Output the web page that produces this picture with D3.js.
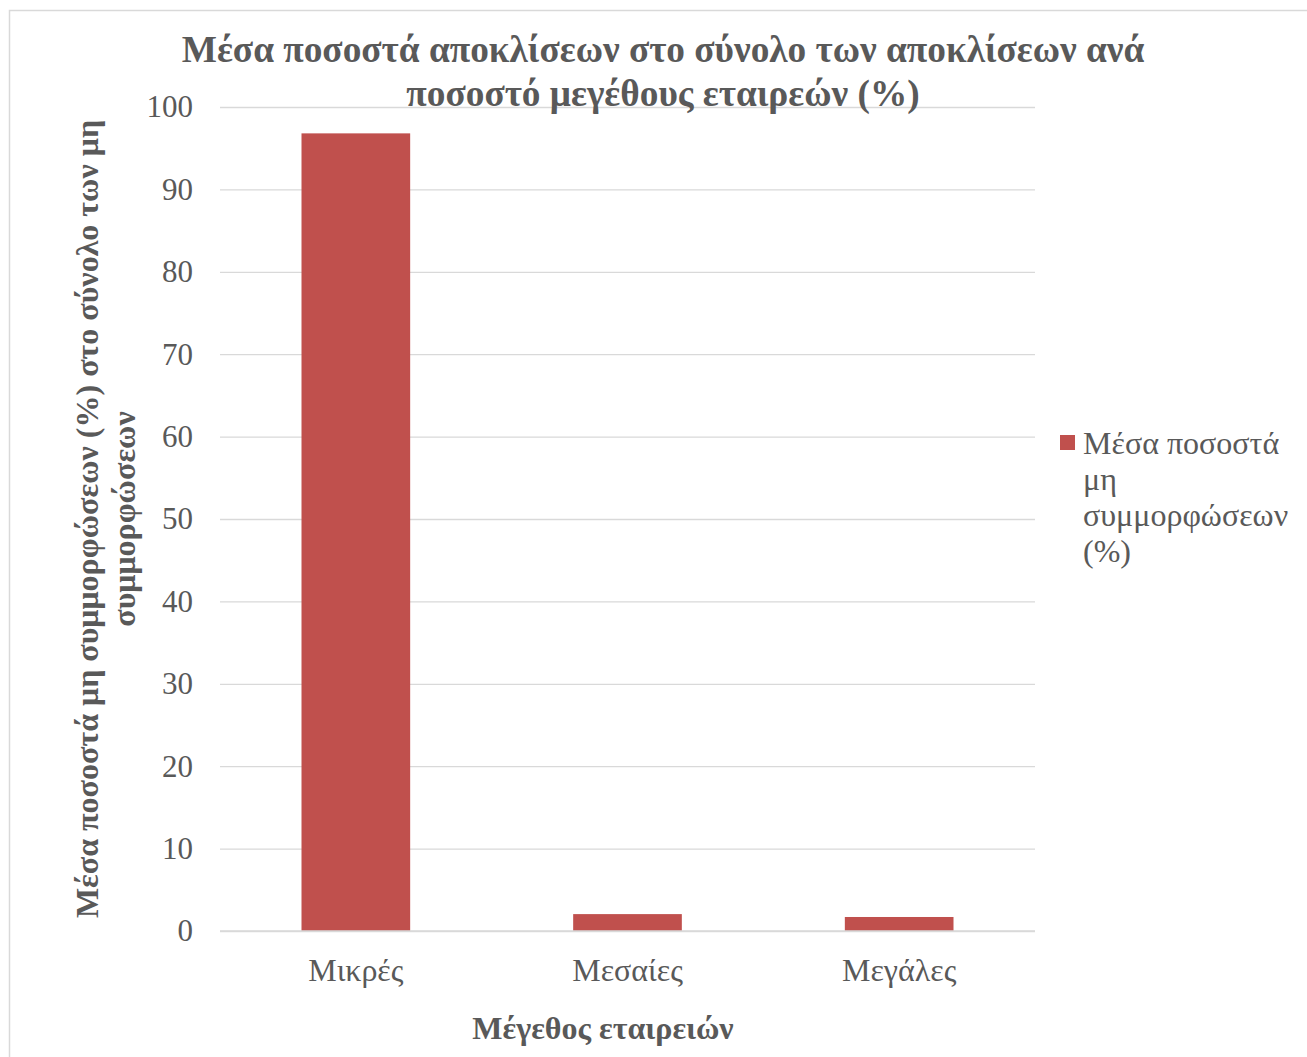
<!DOCTYPE html>
<html>
<head>
<meta charset="utf-8">
<script src="https://cdn.jsdelivr.net/npm/d3@7"></script>
<style>
  html, body { margin: 0; padding: 0; background: #fff; }
  svg { display: block; }
  text { font-family: "Liberation Serif", "Times New Roman", serif; }
</style>
</head>
<body>
<svg id="chart" width="1307" height="1057"></svg>
<script>
// Chart data
const categories = ["Μικρές", "Μεσαίες", "Μεγάλες"];
const values = [96.8, 2.05, 1.7];
const yTicks = [0, 10, 20, 30, 40, 50, 60, 70, 80, 90, 100];
const titleLines = ["Μέσα ποσοστά αποκλίσεων στο σύνολο των αποκλίσεων ανά", "ποσοστό μεγέθους εταιρεών (%)"];
const yTitleLines = ["Μέσα ποσοστά μη συμμορφώσεων (%) στο σύνολο των μη", "συμμορφώσεων"];
const xTitle = "Μέγεθος εταιρειών";
const legendLines = ["Μέσα ποσοστά", "μη", "συμμορφώσεων", "(%)"];

const svg = d3.select("#chart");
const W = 1307, H = 1057;
const plot = { left: 220, right: 1035, top: 107, bottom: 931 };
const barColor = "#c0504d";
const textColor = "#595959";

// Outer chart border
svg.append("rect")
  .attr("x", 9.5).attr("y", 10.5)
  .attr("width", W + 10).attr("height", H + 10)
  .attr("fill", "#fff").attr("stroke", "#d9d9d9").attr("stroke-width", 1.5);

const x = d3.scaleBand().domain(categories).range([plot.left, plot.right]).paddingInner(0.6).paddingOuter(0.3);
const y = d3.scaleLinear().domain([0, 100]).range([plot.bottom, plot.top]);

// Gridlines and y tick labels
const yAxis = d3.axisLeft(y).tickValues(yTicks).tickSize(-(plot.right - plot.left)).tickPadding(27).tickFormat(d3.format("d"));
const gy = svg.append("g").attr("transform", `translate(${plot.left},0)`).call(yAxis);
gy.select(".domain").remove();
gy.selectAll(".tick line").attr("stroke", "#d9d9d9").attr("stroke-width", 1.3);
gy.selectAll(".tick text")
  .attr("fill", textColor).attr("font-size", 31)
  .attr("font-family", "Liberation Serif, serif");

// Bars
svg.append("g").selectAll("rect").data(values).join("rect")
  .attr("x", (d, i) => x(categories[i]))
  .attr("y", d => y(d))
  .attr("width", x.bandwidth())
  .attr("height", d => y(0) - y(d))
  .attr("fill", barColor);

// Baseline
svg.append("line")
  .attr("x1", plot.left).attr("x2", plot.right)
  .attr("y1", y(0)).attr("y2", y(0))
  .attr("stroke", "#d9d9d9").attr("stroke-width", 1.5);

// Category labels
const xAxis = d3.axisBottom(x).tickSize(0).tickPadding(27);
const gx = svg.append("g").attr("transform", `translate(0,${plot.bottom})`).call(xAxis);
gx.select(".domain").remove();
gx.selectAll(".tick text")
  .attr("fill", textColor).attr("font-size", 32)
  .attr("font-family", "Liberation Serif, serif");

// Title
svg.append("text")
  .attr("text-anchor", "middle").attr("font-weight", "bold")
  .attr("font-size", 37.3).attr("fill", textColor)
  .selectAll("tspan").data(titleLines).join("tspan")
  .attr("x", 663).attr("y", (d, i) => 62 + i * 44)
  .text(d => d);

// Y axis title (rotated, two lines)
svg.append("text")
  .attr("transform", "translate(98,519) rotate(-90)")
  .attr("text-anchor", "middle").attr("font-weight", "bold")
  .attr("font-size", 32).attr("fill", textColor)
  .selectAll("tspan").data(yTitleLines).join("tspan")
  .attr("x", 0).attr("y", (d, i) => i * 37)
  .text(d => d);

// X axis title
svg.append("text")
  .attr("x", 603).attr("y", 1039)
  .attr("text-anchor", "middle").attr("font-weight", "bold")
  .attr("font-size", 32).attr("fill", textColor)
  .text(xTitle);

// Legend
const lg = svg.append("g");
lg.append("rect").attr("x", 1060).attr("y", 435).attr("width", 15).attr("height", 15).attr("fill", barColor);
lg.append("text")
  .attr("font-size", 32).attr("fill", textColor)
  .selectAll("tspan").data(legendLines).join("tspan")
  .attr("x", 1083).attr("y", (d, i) => 454 + i * 36)
  .text(d => d);
</script>
</body>
</html>
